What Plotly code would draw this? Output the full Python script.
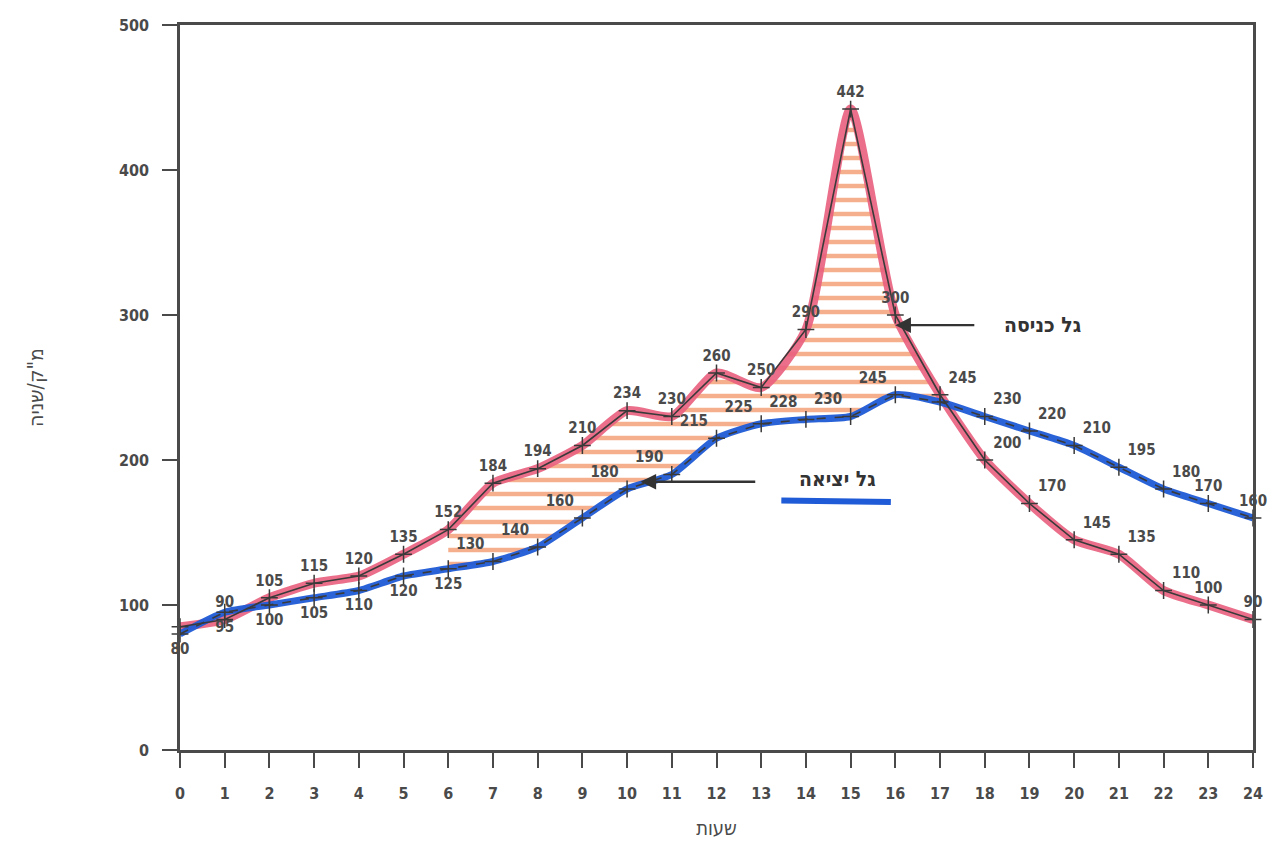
import plotly.graph_objects as go

# שעות
hours = list(range(25))

# גל כניסה (מ"ק/שניה)
inflow = [85, 90, 105, 115, 120, 135, 152, 184, 194, 210, 234, 230, 260, 250,
          290, 442, 300, 245, 200, 170, 145, 135, 110, 100, 90]
inflow_labels = ["", "90", "105", "115", "120", "135", "152", "184", "194", "210", "234", "230",
                 "260", "250", "290", "442", "300", "245", "200", "170", "145", "135",
                 "110", "100", "90"]

# גל יציאה (מ"ק/שניה)
outflow = [80, 95, 100, 105, 110, 120, 125, 130, 140, 160, 180, 190, 215, 225,
           228, 230, 245, 240, 230, 220, 210, 195, 180, 170, 160]
outflow_labels = ["80", "95", "100", "105", "110", "120", "125", "130", "140", "160", "180",
                  "190", "215", "225", "228", "230", "245", "", "230", "220", "210", "195",
                  "180", "170", "160"]

# טווח ההצללה בין הגלים
fill_from, fill_to = 6, 17

FONT = "DejaVu Sans Condensed, DejaVu Sans"
GREY = "#4a4a4a"

in_pos = ["top center"] * 17 + ["top right"] * 6 + ["top center"] * 2
out_pos = (["bottom center"] * 7 + ["top left"] * 10 + ["top center"]
           + ["top right"] * 5 + ["top center"] * 2)

fig = go.Figure()

# הצללה כתומה בין גל הכניסה לגל היציאה
fig.add_trace(go.Scatter(x=hours[fill_from:fill_to + 1], y=outflow[fill_from:fill_to + 1],
                         mode="lines", line=dict(width=0), showlegend=False, hoverinfo="skip"))
fig.add_trace(go.Scatter(x=hours[fill_from:fill_to + 1], y=inflow[fill_from:fill_to + 1],
                         mode="lines", line=dict(width=0), fill="tonexty",
                         fillcolor="rgba(0,0,0,0)",
                         fillpattern=dict(shape="-", fgcolor="#ee5f1c", bgcolor="rgba(0,0,0,0)",
                                          size=14, solidity=0.32),
                         showlegend=False, hoverinfo="skip"))

# קווי טוש עבים
fig.add_trace(go.Scatter(x=hours, y=inflow, mode="lines",
                         line=dict(color="#e9607e", width=9, shape="spline", smoothing=0.6),
                         opacity=0.9, showlegend=False, hoverinfo="skip"))
fig.add_trace(go.Scatter(x=hours, y=outflow, mode="lines",
                         line=dict(color="#1f5bd6", width=7, shape="spline", smoothing=0.6),
                         opacity=0.95, showlegend=False, hoverinfo="skip"))

# קווים דקים עם ערכים
fig.add_trace(go.Scatter(x=hours, y=inflow, mode="lines+markers+text", text=inflow_labels,
                         textposition=in_pos, cliponaxis=False,
                         textfont=dict(family=FONT, size=15, color=GREY, weight="bold"),
                         line=dict(color="#3a3a3a", width=1.6),
                         marker=dict(symbol="cross-thin", size=12, line=dict(color="#3a3a3a", width=1.5)),
                         name="גל כניסה", showlegend=False))
fig.add_trace(go.Scatter(x=hours, y=outflow, mode="lines+markers+text", text=outflow_labels,
                         textposition=out_pos, cliponaxis=False,
                         textfont=dict(family=FONT, size=15, color=GREY, weight="bold"),
                         line=dict(color="#3a3a3a", width=1.6, dash="dash"),
                         marker=dict(symbol="cross-thin", size=12, line=dict(color="#3a3a3a", width=1.5)),
                         name="גל יציאה", showlegend=False))

# חיצים ותוויות
fig.add_annotation(x=16.0, y=293, ax=17.8, ay=293, axref="x", ayref="y", xref="x", yref="y",
                   text="", showarrow=True, arrowhead=2, arrowsize=1.3, arrowwidth=2.4, arrowcolor="#333")
fig.add_annotation(x=19.3, y=293, text="גל כניסה", showarrow=False,
                   font=dict(family=FONT, size=21, color="#333", weight="bold"), xanchor="center")
fig.add_annotation(x=10.3, y=185, ax=12.9, ay=185, axref="x", ayref="y", xref="x", yref="y",
                   text="", showarrow=True, arrowhead=2, arrowsize=1.3, arrowwidth=2.4, arrowcolor="#333")
fig.add_annotation(x=14.7, y=187, text="גל יציאה", showarrow=False,
                   font=dict(family=FONT, size=21, color="#333", weight="bold"), xanchor="center")
fig.add_shape(type="line", x0=13.45, x1=15.9, y0=172, y1=171, xref="x", yref="y",
              line=dict(color="#1f5bd6", width=6))

fig.update_xaxes(range=[0, 24], tickvals=hours, ticks="outside", ticklen=15, tickwidth=2,
                 tickcolor=GREY, showline=True, linecolor=GREY, linewidth=2.5, mirror=True,
                 showgrid=False, zeroline=False, ticklabelstandoff=12, automargin=False,
                 tickfont=dict(family=FONT, size=16, color=GREY, weight="bold"),
                 title=dict(text="שעות", font=dict(family=FONT, size=20, color=GREY), standoff=20))
fig.update_yaxes(range=[0, 500], tickvals=[0, 100, 200, 300, 400, 500], ticks="outside", ticklen=15,
                 tickwidth=2, tickcolor=GREY, showline=True, linecolor=GREY, linewidth=2.5, mirror=True,
                 showgrid=False, zeroline=False, ticklabelstandoff=10, automargin=False,
                 tickfont=dict(family=FONT, size=16, color=GREY, weight="bold"),
                 title=dict(text='מ"ק/שניה', font=dict(family=FONT, size=21, color=GREY), standoff=70))

fig.update_layout(width=1273, height=837, margin=dict(l=172, r=28, t=17, b=95),
                  paper_bgcolor="white", plot_bgcolor="white")

fig.write_html("out.html")
